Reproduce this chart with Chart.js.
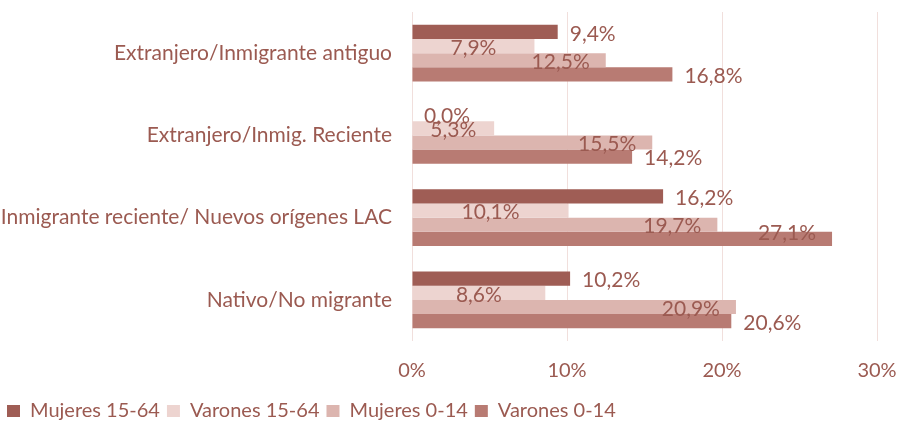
<!DOCTYPE html>
<html>
<head>
<meta charset="utf-8">
<script src="https://cdn.jsdelivr.net/npm/chart.js@4.4.1/dist/chart.umd.min.js"></script>
<style>
    html, body { margin: 0; padding: 0; background: #ffffff; }
    #wrap { width: 897px; height: 422px; position: relative; }
</style>
</head>
<body>
<div id="wrap"><canvas id="chart"></canvas></div>
<script>
const categories = [
    'Extranjero/Inmigrante antiguo',
    'Extranjero/Inmig. Reciente',
    'Inmigrante reciente/ Nuevos orígenes LAC',
    'Nativo/No migrante'
];
const mujeres1564 = [9.4, 0.0, 16.2, 10.2];
const varones1564 = [7.9, 5.3, 10.1, 8.6];
const mujeres014 = [12.5, 15.5, 19.7, 20.9];
const varones014 = [16.8, 14.2, 27.1, 20.6];
const xTicks = [0, 10, 20, 30];

const textColor = '#9b5a51';
const fontFamily = 'Lato, "Open Sans", sans-serif';

// where each series puts its value label (as in the original)
const labelModes = ['out', 'center', 'in', 'out'];

const valueLabels = {
    id: 'valueLabels',
    afterDatasetsDraw(chart) {
        const ctx = chart.ctx;
        ctx.save();
        ctx.font = '21px ' + fontFamily;
        ctx.fillStyle = textColor;
        ctx.textBaseline = 'middle';
        ctx.textAlign = 'left';
        chart.data.datasets.forEach((ds, i) => {
            const meta = chart.getDatasetMeta(i);
            meta.data.forEach((bar, j) => {
                const txt = ds.data[j].toFixed(1).replace('.', ',') + '%';
                const w = ctx.measureText(txt).width;
                let mode = labelModes[i];
                let y = bar.y + 2;
                // no room on the right: lift it over the bar end
                if (mode === 'out' && bar.x + 13 + w > chart.width - 10) {
                    mode = 'in';
                    y -= 8;
                }
                let x;
                if (mode === 'out') x = bar.x + 12;
                else if (mode === 'in') x = bar.x - 16 - w;
                else x = (bar.base + bar.x) / 2 - w / 2;
                ctx.fillText(txt, x, y);
            });
        });
        ctx.restore();
    }
};

const ctx = document.getElementById('chart').getContext('2d');
const chart = new Chart(ctx, {
    type: 'bar',
    data: {
        labels: categories,
        datasets: [
            { label: 'Mujeres 15-64', data: mujeres1564, backgroundColor: '#9f5d55' },
            { label: 'Varones 15-64', data: varones1564, backgroundColor: '#edd4d0' },
            { label: 'Mujeres 0-14', data: mujeres014, backgroundColor: '#dcb5af' },
            { label: 'Varones 0-14', data: varones014, backgroundColor: '#b87b73' }
        ]
    },
    options: {
        indexAxis: 'y',
        responsive: true,
        maintainAspectRatio: false,
        animation: false,
        categoryPercentage: 0.69,
        barPercentage: 1.0,
        layout: { padding: { top: 12, right: 0, left: 0, bottom: -9 } },
        scales: {
            x: {
                min: 0,
                max: 30,
                afterBuildTicks: (axis) => {
                    axis.ticks = xTicks.map(v => ({ value: v }));
                },
                afterFit: (axis) => {
                    axis.paddingRight = 20;
                    axis.paddingLeft = 0;
                    axis.height -= 7;
                },
                ticks: {
                    callback: (v) => v + '%',
                    color: textColor,
                    font: { family: fontFamily, size: 20 },
                    padding: 18,
                    maxRotation: 0
                },
                grid: { color: '#f1dfdc', lineWidth: 1, drawTicks: false },
                border: { display: false }
            },
            y: {
                afterFit: (axis) => {
                    axis.width = 412;
                    axis.paddingTop = 0;
                    axis.paddingBottom = 0;
                },
                ticks: {
                    color: textColor,
                    font: { family: fontFamily, size: 21 },
                    padding: 20
                },
                grid: { display: false, drawTicks: false },
                border: { display: false }
            }
        },
        plugins: {
            legend: {
                position: 'bottom',
                align: 'start',
                labels: {
                    color: textColor,
                    font: { family: fontFamily, size: 20 },
                    boxWidth: 13,
                    boxHeight: 12,
                    padding: 7
                }
            },
            tooltip: { enabled: false }
        }
    },
    plugins: [valueLabels]
});
</script>
</body>
</html>
